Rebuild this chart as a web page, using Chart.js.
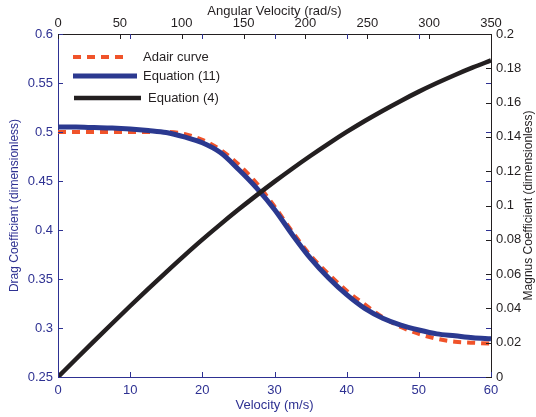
<!DOCTYPE html>
<html>
<head>
<meta charset="utf-8">
<script src="https://cdn.jsdelivr.net/npm/chart.js@4"></script>
<style>
  html, body { margin: 0; padding: 0; background: #fff; }
  #wrap { width: 536px; height: 417px; position: relative; }
</style>
</head>
<body>
<div id="wrap"><canvas id="c"></canvas></div>
<script>
// velocity (m/s)
const velocity = [0, 2.5, 5, 7.5, 10, 12.5, 15, 17.5, 20, 22.5, 25, 27.5, 30,
  32.5, 35, 37.5, 40, 42.5, 45, 47.5, 50, 52.5, 55, 57.5, 60];

// drag coefficient, Adair curve
const adair = [0.500, 0.500, 0.500, 0.500, 0.500, 0.500, 0.500, 0.498, 0.492, 0.482, 0.467, 0.448, 0.424,
  0.398, 0.374, 0.355, 0.338, 0.324, 0.311, 0.301, 0.294, 0.289, 0.286, 0.285, 0.284];

// drag coefficient, equation (11)
const eq11 = [0.505, 0.505, 0.5045, 0.504, 0.503, 0.5015, 0.4995, 0.495, 0.489, 0.479, 0.462, 0.443, 0.421,
  0.395, 0.371, 0.351, 0.334, 0.320, 0.310, 0.303, 0.298, 0.294, 0.292, 0.290, 0.289];

// magnus coefficient, equation (4)
const eq4 = [0, 0.0105, 0.0209, 0.0312, 0.0414, 0.0514, 0.0612, 0.0708, 0.0801, 0.0890, 0.0976, 0.1059, 0.1139,
  0.1216, 0.1290, 0.1361, 0.1429, 0.1493, 0.1553, 0.1610, 0.1664, 0.1714, 0.1761, 0.1805, 0.1846];

const BLUE = '#2e3192';
const BLACK = '#231f20';
const RED = '#f0532a';
const FONT = "'Liberation Sans', Arial, Helvetica, sans-serif";

function pts(ys) {
  return velocity.map((v, i) => ({ x: v, y: ys[i] }));
}
function lbl(v) {
  return String(+v.toFixed(3));
}

// matlab style ticks pointing into the box
const inwardTicks = {
  id: 'inwardTicks',
  afterDatasetsDraw(chart) {
    const { ctx, chartArea: a, scales } = chart;
    const len = 5;
    const seg = (x1, y1, x2, y2) => {
      ctx.beginPath(); ctx.moveTo(x1, y1); ctx.lineTo(x2, y2); ctx.stroke();
    };
    ctx.save();
    ctx.lineWidth = 1;
    ctx.strokeStyle = BLUE;
    scales.y.ticks.forEach(t => {
      const p = Math.round(scales.y.getPixelForValue(t.value)) + 0.5;
      seg(a.left, p, a.left + len, p);
      seg(a.right, p, a.right - len, p);
    });
    scales.x.ticks.forEach(t => {
      const p = Math.round(scales.x.getPixelForValue(t.value)) + 0.5;
      seg(p, a.bottom, p, a.bottom - len);
      seg(p, a.top, p, a.top + len);
    });
    ctx.strokeStyle = BLACK;
    scales.y2.ticks.forEach(t => {
      const p = Math.round(scales.y2.getPixelForValue(t.value)) + 0.5;
      seg(a.right, p, a.right - len, p);
    });
    scales.x2.ticks.forEach(t => {
      const p = Math.round(scales.x2.getPixelForValue(t.value)) + 0.5;
      seg(p, a.top, p, a.top + len);
    });
    ctx.restore();
  }
};

// legend inside the axes, no box; right axis title reading upwards
const innerLegend = {
  id: 'innerLegend',
  afterDraw(chart) {
    const { ctx, chartArea: a } = chart;
    const ds = chart.data.datasets;
    const rows = [
      { d: ds[0], x1: 73, x2: 128, y: 57, tx: 143 },
      { d: ds[1], x1: 73, x2: 137, y: 76, tx: 143 },
      { d: ds[2], x1: 74, x2: 141, y: 98, tx: 148 }
    ];
    ctx.save();
    rows.forEach(r => {
      ctx.strokeStyle = r.d.borderColor;
      ctx.lineWidth = r.d.borderWidth;
      ctx.setLineDash(r.d.borderDash || []);
      ctx.beginPath(); ctx.moveTo(r.x1, r.y); ctx.lineTo(r.x2, r.y); ctx.stroke();
      ctx.setLineDash([]);
      ctx.fillStyle = BLACK;
      ctx.font = '13px ' + FONT;
      ctx.textBaseline = 'middle';
      ctx.fillText(r.d.label, r.tx, r.y);
    });

    ctx.translate(529, (a.top + a.bottom) / 2);
    ctx.rotate(-Math.PI / 2);
    ctx.font = '12px ' + FONT;
    ctx.textAlign = 'center';
    ctx.textBaseline = 'middle';
    ctx.fillStyle = BLACK;
    ctx.fillText('Magnus Coefficient (dimensionless)', 0, 0);
    ctx.restore();
  }
};

const tickFont = { family: FONT, size: 13 };

new Chart(document.getElementById('c'), {
  type: 'line',
  data: {
    datasets: [
      {
        label: 'Adair curve', data: pts(adair), yAxisID: 'y', xAxisID: 'x',
        borderColor: RED, borderWidth: 4, borderDash: [8, 6], order: 3
      },
      {
        label: 'Equation (11)', data: pts(eq11), yAxisID: 'y', xAxisID: 'x',
        borderColor: '#2b3990', borderWidth: 5, order: 2
      },
      {
        label: 'Equation (4)', data: pts(eq4), yAxisID: 'y2', xAxisID: 'x',
        borderColor: BLACK, borderWidth: 4.5, order: 1
      }
    ]
  },
  options: {
    responsive: true,
    maintainAspectRatio: false,
    animation: false,
    layout: { padding: 0 },
    elements: {
      point: { radius: 0 },
      line: { cubicInterpolationMode: 'monotone', borderCapStyle: 'butt' }
    },
    plugins: { legend: { display: false }, tooltip: { enabled: false } },
    scales: {
      x: {
        type: 'linear', position: 'bottom', min: 0, max: 60,
        ticks: { stepSize: 10, color: BLUE, font: tickFont, padding: 6, maxRotation: 0 },
        grid: { drawOnChartArea: false, drawTicks: false },
        border: { color: BLUE },
        title: { display: true, text: 'Velocity (m/s)', color: BLUE, font: tickFont, padding: { bottom: 4 } },
        afterFit: s => { s.height = 40; }
      },
      x2: {
        type: 'linear', position: 'top', min: 0, max: 350,
        ticks: { stepSize: 50, color: BLACK, font: tickFont, padding: 3, maxRotation: 0 },
        grid: { drawOnChartArea: false, drawTicks: false },
        border: { color: BLACK },
        title: { display: true, text: 'Angular Velocity (rad/s)', color: BLACK, font: tickFont, padding: { top: 4 } },
        afterFit: s => { s.height = 34; }
      },
      y: {
        type: 'linear', position: 'left', min: 0.25, max: 0.6,
        ticks: { stepSize: 0.05, color: BLUE, font: tickFont, padding: 5, callback: lbl },
        grid: { drawOnChartArea: false, drawTicks: false },
        border: { color: BLUE },
        title: { display: true, text: 'Drag Coefficient (dimensionless)', color: BLUE,
          font: { family: FONT, size: 12 }, padding: { top: 7 } },
        afterFit: s => { s.width = 58; }
      },
      y2: {
        type: 'linear', position: 'right', min: 0, max: 0.2,
        ticks: { stepSize: 0.02, color: BLACK, font: tickFont, padding: 5, callback: lbl },
        grid: { drawOnChartArea: false, drawTicks: false },
        border: { color: BLACK },
        afterFit: s => { s.width = 45; }
      }
    }
  },
  plugins: [inwardTicks, innerLegend]
});
</script>
</body>
</html>
